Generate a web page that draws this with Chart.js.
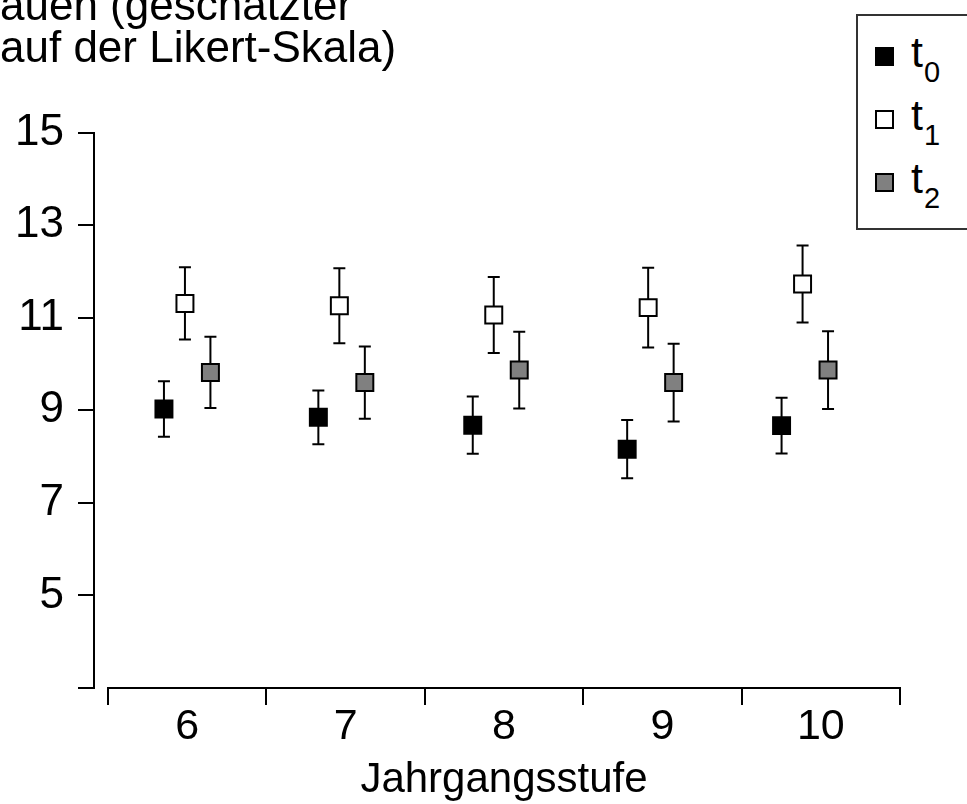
<!DOCTYPE html>
<html lang="de">
<head>
<meta charset="utf-8">
<title>Jahrgangsstufe</title>
<script src="https://cdn.jsdelivr.net/npm/chart.js@4.4.1/dist/chart.umd.min.js"></script>
<style>
  html, body { margin: 0; padding: 0; background: #fff; overflow: hidden; }
  .wrap { position: relative; width: 967px; height: 804px; }
  .legend {
    position: absolute; left: 856px; top: 14px; width: 200px; height: 216px;
    border: 2px solid #333; box-sizing: border-box; padding-top: 9px; background: #fff;
    font-family: "Liberation Sans", Arial, sans-serif; color: #000;
  }
  .legend__item { display: flex; align-items: center; height: 63px; }
  .legend__dot { width: 19px; height: 19px; box-sizing: border-box; border: 2px solid #000; margin-left: 17px; }
  .legend__label { margin-left: 17px; font-size: 43px; line-height: 1; position: relative; top: -4px; }
  .legend__label sub { font-size: 29px; vertical-align: baseline; position: relative; top: 15px; margin-left: 1px; }
</style>
</head>
<body>
<div class="wrap">
  <canvas id="chart" width="967" height="804"></canvas>
  <div class="legend" id="legend"></div>
</div>
<script>
const GRADES = ['6', '7', '8', '9', '10'];
const SERIES_NAMES = ['t0', 't1', 't2'];

const MEAN_T0 = [9.03, 8.85, 8.68, 8.16, 8.67];
const MEAN_T1 = [11.31, 11.26, 11.06, 11.22, 11.73];
const MEAN_T2 = [9.82, 9.60, 9.87, 9.60, 9.87];

const ERR_T0 = [0.60, 0.58, 0.62, 0.63, 0.60];
const ERR_T1 = [0.78, 0.81, 0.82, 0.86, 0.83];
const ERR_T2 = [0.77, 0.78, 0.83, 0.84, 0.84];

const Y_TICKS = [3, 5, 7, 9, 11, 13, 15];

const TITLE_LINES = ['auen (geschätzter', 'auf der Likert-Skala)'];
const X_TITLE = 'Jahrgangsstufe';

// layout / style
const FONT = '"Liberation Sans", Arial, sans-serif';
const FILLS = ['#000000', '#ffffff', '#808080'];
const DODGE = [-0.136, 0, 0.165];   // horizontal shift of each series inside a group
const XP_MIN = -0.589;
const XP_MAX = 4.631;
const AXIS_GAP = 14;                // x axis starts a bit right of the y axis

const MEANS = [MEAN_T0, MEAN_T1, MEAN_T2];
const ERRS = [ERR_T0, ERR_T1, ERR_T2];

function barPoints(means, errs, shift) {
  const pts = [];
  means.forEach((m, i) => {
    pts.push({ x: i + shift, y: m - errs[i] });
    pts.push({ x: i + shift, y: m + errs[i] });
    pts.push({ x: i + shift, y: null });
  });
  return pts;
}

const datasets = [];
SERIES_NAMES.forEach((name, k) => {
  datasets.push({
    label: name,
    data: MEANS[k].map((m, i) => ({ x: i + DODGE[k], y: m })),
    xAxisID: 'xp',
    pointStyle: 'rect',
    pointRadius: 12,
    pointBorderWidth: 2,
    borderColor: '#000',
    backgroundColor: FILLS[k],
    showLine: false,
    order: 1,
  });
  // error bars: vertical segment with flat caps
  datasets.push({
    label: name + ' SE',
    data: barPoints(MEANS[k], ERRS[k], DODGE[k]),
    xAxisID: 'xp',
    showLine: true,
    spanGaps: false,
    borderColor: '#000',
    borderWidth: 2,
    pointStyle: 'line',
    pointRadius: 6,
    pointBorderWidth: 2,
    pointBorderColor: '#000',
    order: 2,
  });
});

// Legend
const legendEl = document.getElementById('legend');
SERIES_NAMES.forEach((name, k) => {
  const li = document.createElement('div');
  li.className = 'legend__item';
  const dot = document.createElement('span');
  dot.className = 'legend__dot';
  dot.style.backgroundColor = FILLS[k];
  const label = document.createElement('span');
  label.className = 'legend__label';
  label.textContent = name.slice(0, 1);
  const sub = document.createElement('sub');
  sub.textContent = name.slice(1);
  label.appendChild(sub);
  li.appendChild(dot);
  li.appendChild(label);
  legendEl.appendChild(li);
});

const detachAxis = {
  id: 'detachAxis',
  afterLayout(chart) {
    const s = chart.scales.x;
    s.left += AXIS_GAP;
    s.width = s.right - s.left;
    s.configure();
  },
};

new Chart(document.getElementById('chart'), {
  type: 'scatter',
  data: { labels: GRADES, datasets },
  plugins: [detachAxis],
  options: {
    responsive: false,
    animation: false,
    events: [],
    layout: { padding: { left: 0, right: 67, top: 0, bottom: 0 } },
    plugins: {
      legend: { display: false },
      tooltip: { enabled: false },
      title: {
        display: true,
        text: TITLE_LINES,
        align: 'start',
        color: '#000',
        font: { family: FONT, size: 44, weight: 'normal', lineHeight: 42 / 44 },
        padding: { top: -13.5, bottom: 62.2 },
      },
    },
    scales: {
      xp: {
        type: 'linear',
        position: 'bottom',
        display: false,
        min: XP_MIN,
        max: XP_MAX,
      },
      x: {
        type: 'category',
        position: 'bottom',
        offset: true,
        min: 0,
        max: GRADES.length - 1,
        grid: { offset: true, drawOnChartArea: false, drawTicks: true, tickLength: 17, color: '#000', lineWidth: 2 },
        border: { display: true, color: '#000', width: 2 },
        ticks: { color: '#000', padding: 1, font: { family: FONT, size: 43, lineHeight: 1 }, maxRotation: 0 },
        title: {
          display: true,
          text: X_TITLE,
          color: '#000',
          font: { family: FONT, size: 42, lineHeight: 1 },
          padding: { top: 0, bottom: 3 },
        },
        afterFit(scale) { scale.height = 116; },
      },
      y: {
        type: 'linear',
        position: 'left',
        min: Y_TICKS[0],
        max: Y_TICKS[Y_TICKS.length - 1],
        afterBuildTicks(scale) { scale.ticks = Y_TICKS.map((v) => ({ value: v })); },
        grid: { drawOnChartArea: false, drawTicks: true, tickLength: 16, color: '#000', lineWidth: 2 },
        border: { display: true, color: '#000', width: 2 },
        ticks: {
          color: '#000',
          padding: 14,
          font: { family: FONT, size: 44 },
          callback: (v) => (v === Y_TICKS[0] ? '' : v),
        },
        afterFit(scale) { scale.width = 94; },
      },
    },
  },
});
</script>
</body>
</html>
